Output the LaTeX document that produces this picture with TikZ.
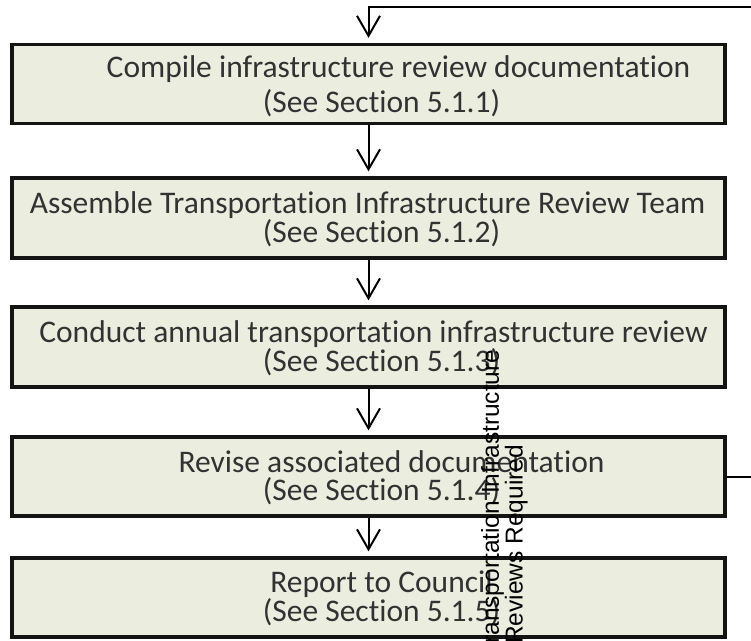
\documentclass[tikz,border=0pt]{standalone}
\usepackage{fontspec}
\setmainfont{Carlito}[Ligatures=NoCommon]
\newfontfamily\labelfont{Liberation Sans}
\usetikzlibrary{arrows.meta,positioning}

\definecolor{boxfill}{RGB}{235,238,222}
\definecolor{boxline}{RGB}{20,20,20}
\definecolor{textgrey}{RGB}{50,50,50}

\tikzset{
  stepbox/.style={draw=boxline, fill=boxfill, line width=3.3pt,
    minimum width=713pt, inner sep=0pt},
  steptext/.style={align=center, text=textgrey, inner sep=0pt,
    font=\fontsize{31.5}{28}\selectfont},
  flow/.style={-{Straight Barb[length=20pt,width=23pt]}, line width=2pt,
    shorten >=5pt},
}

\begin{document}
\begin{tikzpicture}[x=1pt,y=1pt]
  \useasboundingbox (0,0) rectangle (751,640);
  \clip (0,0) rectangle (751,640);
  % the five steps
  \node[stepbox, minimum height=79pt] (compile) at (368.5,556) {};
  \node[stepbox, minimum height=80pt] (assemble) at (368.5,422) {};
  \node[stepbox, minimum height=80pt] (conduct) at (368.5,293) {};
  \node[stepbox, minimum height=79pt] (revise) at (368.5,163.5) {};
  \node[stepbox, minimum height=79pt] (report) at (368.5,42.5) {};
  \node[steptext] (compile-text) at ([xshift=13pt,yshift=-2pt]compile.center)
    {\hspace*{34pt}Compile infrastructure review documentation\\[6pt](See Section 5.1.1)};
  \node[steptext] (assemble-text) at ([xshift=13pt,yshift=-1pt]assemble.center)
    {\hspace*{-28pt}Assemble Transportation Infrastructure Review Team\\(See Section 5.1.2)};
  \node[steptext] (conduct-text) at ([xshift=13pt,yshift=-1pt]conduct.center)
    {\hspace*{-16pt}Conduct annual transportation infrastructure review\\(See Section 5.1.3)};
  \node[steptext] (revise-text) at ([xshift=13pt,yshift=-1pt]revise.center)
    {\hspace*{20pt}Revise associated documentation\\(See Section 5.1.4)};
  \node[steptext] (report-text) at ([xshift=13pt,yshift=-1pt]report.center)
    {Report to Council\\(See Section 5.1.5)};
  % connectors
  \draw[flow] (compile) -- (assemble);
  \draw[flow] (assemble) -- (conduct);
  \draw[flow] (conduct) -- (revise);
  \draw[flow] (revise) -- (report);
  \coordinate (loop-top) at (368.5,633);
  \draw[flow] (revise.east) -- (760,163.5) |- (loop-top) -- (compile.north);
  \node[rotate=90, anchor=south west, align=left, inner sep=0pt,
    font=\labelfont\fontsize{24.5}{21}\selectfont] (loop-label) at (528,-4)
    {\hspace*{-14pt}Transportation Infrastructure\\Reviews Required};
\end{tikzpicture}
\end{document}
